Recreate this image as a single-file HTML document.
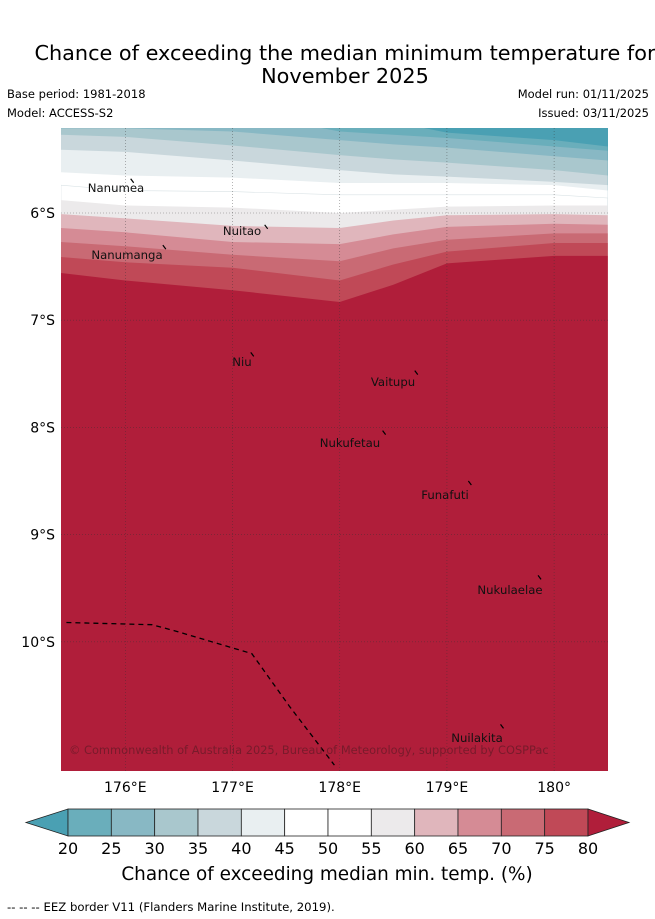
<!DOCTYPE html>
<html><head><meta charset="utf-8"><style>
body{margin:0;background:#fff;width:655px;height:919px;overflow:hidden;font-family:"DejaVu Sans","Liberation Sans",sans-serif}
svg{position:absolute;left:0;top:0;font-family:"DejaVu Sans","Liberation Sans",sans-serif}
</style></head><body>
<svg id="chart" width="655" height="919" viewBox="0 0 655 919">
<text x="345" y="60" font-size="20.8" text-anchor="middle">Chance of exceeding the median minimum temperature for</text>
<text x="345" y="83" font-size="20.8" text-anchor="middle">November 2025</text>
<text x="7" y="98" font-size="11.5">Base period: 1981-2018</text>
<text x="7" y="117" font-size="11.5">Model: ACCESS-S2</text>
<text x="649" y="98" font-size="11.5" text-anchor="end">Model run: 01/11/2025</text>
<text x="649" y="117" font-size="11.5" text-anchor="end">Issued: 03/11/2025</text>
<defs><clipPath id="mapclip"><rect x="61" y="128" width="547" height="643"/></clipPath></defs>
<g id="map" clip-path="url(#mapclip)"></g>
<g id="axes"></g>
<g id="cbar"></g>
<text x="327" y="880" font-size="18.4" text-anchor="middle">Chance of exceeding median min. temp. (%)</text>
<text x="7" y="911" font-size="11.7">--  --  -- EEZ border V11 (Flanders Marine Institute, 2019).</text>
</svg>
<script>
const lons=[175.4,176,177,178,178.5,179,180,180.5];
const levels=[20,25,30,35,40,45,50,55,60,65,70,75,80];
const bandColors=["#4aa0b3","#6aaebb","#88b8c4","#a9c7cd","#c9d7dc","#e9eff1","#ffffff","#ffffff","#eceaeb","#e0b6bc","#d58b95","#c96a74","#c04957","#b01e3a"];
const boundaries=[
[4.9,4.9,4.9,5.0,5.15,5.25,5.32,5.38],
[4.9,4.9,5.05,5.24,5.27,5.30,5.38,5.42],
[5.21,5.21,5.24,5.32,5.36,5.39,5.47,5.51],
[5.27,5.29,5.37,5.46,5.50,5.53,5.60,5.65],
[5.41,5.43,5.51,5.60,5.64,5.66,5.71,5.74],
[5.62,5.65,5.67,5.72,5.72,5.72,5.74,5.79],
[5.74,5.79,5.80,5.83,5.83,5.83,5.83,5.86],
[5.88,5.93,5.95,6.0,5.97,5.94,5.93,5.93],
[6.01,6.05,6.12,6.14,6.07,6.02,6.01,6.02],
[6.14,6.18,6.27,6.29,6.20,6.13,6.10,6.11],
[6.27,6.31,6.39,6.45,6.33,6.25,6.19,6.19],
[6.41,6.46,6.51,6.63,6.48,6.36,6.28,6.28],
[6.56,6.63,6.72,6.83,6.67,6.47,6.40,6.40]];
const lonTicks=[176,177,178,179,180];
const lonLabels=["176°E","177°E","178°E","179°E","180°"];
const latTicks=[6,7,8,9,10];
const latLabels=["6°S","7°S","8°S","9°S","10°S"];
const islands=[["Nanumea",176.05,5.68,116,192],["Nanumanga",176.35,6.3,127,259],["Nuitao",177.3,6.11,242,235],["Niu",177.17,7.3,242,366],["Vaitupu",178.7,7.47,393,386],["Nukufetau",178.4,8.03,350,447],["Funafuti",179.2,8.5,445,499],["Nukulaelae",179.85,9.38,510,594],["Nuilakita",179.5,10.77,477,742]];
const eezLon=[175.45,176.25,176.47,177.18,177.53,177.95];
const eezLat=[9.82,9.84,9.9,10.11,10.6,11.15];
const X=lon=>61+(lon-175.4)*107.2;
const Y=lat=>128+(lat-5.207)*107.2;
const NS="http://www.w3.org/2000/svg";
function mk(tag,attrs,parent){const e=document.createElementNS(NS,tag);for(const k in attrs)e.setAttribute(k,attrs[k]);parent.appendChild(e);return e;}
const map=document.getElementById('map');
const bg=mk('rect',{x:61,y:128,width:547,height:643,fill:bandColors[0]},map);


boundaries.forEach((b,i)=>{
  let d='M'+X(lons[0])+','+Y(b[0]);
  for(let j=1;j<lons.length;j++)d+=' L'+X(lons[j]).toFixed(1)+','+Y(b[j]).toFixed(1);
  d+=' L608,780 L61,780 Z';
  const p=mk('path',{d:d,fill:bandColors[i+1],stroke:(i===6?'#d9e2e5':'none'),'stroke-width':0.6},map);
  
  
});
lonTicks.forEach(l=>{const g=mk('line',{x1:X(l),x2:X(l),y1:128,y2:771,stroke:'#333','stroke-width':0.6,'stroke-dasharray':'1,2','stroke-opacity':0.6},map);

});
latTicks.forEach(l=>{const g=mk('line',{x1:61,x2:608,y1:Y(l),y2:Y(l),stroke:'#333','stroke-width':0.6,'stroke-dasharray':'1,2','stroke-opacity':0.6},map);

});
let ed='';eezLon.forEach((l,i)=>{ed+=(i?' L':'M')+X(l).toFixed(1)+','+Y(eezLat[i]).toFixed(1);});
const eez=mk('path',{d:ed,fill:'none',stroke:'#000','stroke-width':1.3,'stroke-dasharray':'5,4'},map);


islands.forEach(s=>{
  const m=mk('line',{x1:X(s[1]),y1:Y(s[2]),x2:X(s[1])+3,y2:Y(s[2])+4,stroke:'#000','stroke-width':1.2},map);
  
  
  const t=mk('text',{x:s[3],y:s[4],'font-size':11.7,'text-anchor':'middle',fill:'#111'},map);t.textContent=s[0];
  
  
});
const cp=mk('text',{x:69,y:754,'font-size':11.4,fill:'#6a1a28','fill-opacity':0.8},map);cp.textContent='© Commonwealth of Australia 2025, Bureau of Meteorology, supported by COSPPac';


const axes=document.getElementById('axes');
lonTicks.forEach((l,i)=>{const t=mk('text',{x:X(l),y:792,'font-size':14,'text-anchor':'middle'},axes);t.textContent=lonLabels[i];

});
latTicks.forEach((l,i)=>{const t=mk('text',{x:55,y:Y(l)+5,'font-size':14,'text-anchor':'end'},axes);t.textContent=latLabels[i];

});
const cb=document.getElementById('cbar');
const cx=v=>68+(v-20)/60*520;
const y0=809,y1=836,ym=822.5;
const la=mk('polygon',{points:`26,${ym} 68,${y0} 68,${y1}`,fill:bandColors[0],stroke:'#222','stroke-width':0.8},cb);


for(let i=0;i<12;i++){const r=mk('rect',{x:cx(levels[i]),y:y0,width:cx(levels[i+1])-cx(levels[i]),height:y1-y0,fill:bandColors[i+1],stroke:'#222','stroke-width':0.8},cb);

}
const ra=mk('polygon',{points:`588,${y0} 629,${ym} 588,${y1}`,fill:bandColors[13],stroke:'#222','stroke-width':0.8},cb);


levels.forEach(v=>{const t=mk('text',{x:cx(v),y:854,'font-size':16,'text-anchor':'middle'},cb);t.textContent=v;

});
</script>
</body></html>
